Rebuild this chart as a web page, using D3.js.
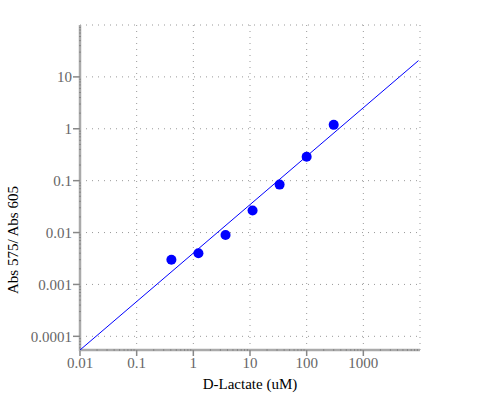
<!DOCTYPE html>
<html>
  <head>
    <meta charset="utf-8">
    <title>D-Lactate standard curve</title>
    <script src="https://d3js.org/d3.v7.min.js"></script>
    <style>
      body { margin: 0; background: #fff; }
      text { font-family: "Liberation Serif", "Times New Roman", serif; }
    </style>
  </head>
  <body>
    <div id="vis"></div>
    <script>
        const width = 500;
        const height = 400;

        const lactate = [0.41, 1.23, 3.7, 11.1, 33.3, 100, 300];
        const absRatio = [0.003, 0.004, 0.009, 0.0265, 0.084, 0.29, 1.19];

        // fitted line end points
        const fitX = [0.01, 9400];
        const fitY = [5.45e-5, 20.6];

        const xTicks = [0.01, 0.1, 1, 10, 100, 1000];
        const yTicks = [0.0001, 0.001, 0.01, 0.1, 1, 10];
        const xGrid = [0.1, 1, 10, 100, 1000, 10000];
        const yGrid = [0.0001, 0.001, 0.01, 0.1, 1, 10, 100];

        const margin = {top: 25, right: 80, bottom: 50, left: 80};

        const svg = d3.select("#vis")
                      .append("svg")
                      .attr("width", width)
                      .attr("height", height);

        const x = d3.scaleLog()
                    .domain([0.01, 10000])
                    .range([margin.left, width - margin.right]);

        const y = d3.scaleLog()
                    .domain([5.45e-5, 100])
                    .range([height - margin.bottom, margin.top]);

        // minor tick values (2..9 of every decade)
        function minors(scale) {
          return scale.ticks().filter(function(v) {
            const m = v / Math.pow(10, Math.floor(Math.log10(v) + 1e-9));
            return Math.abs(m - 1) > 1e-6;
          });
        }

        // dotted grid
        const grid = svg.append("g")
                        .attr("stroke", "#999")
                        .attr("stroke-dasharray", "1,5");

        grid.selectAll(".vgrid")
            .data(xGrid)
            .enter()
            .append("line")
            .attr("x1", d => x(d)).attr("x2", d => x(d))
            .attr("y1", y.range()[0]).attr("y2", y.range()[1]);

        grid.selectAll(".hgrid")
            .data(yGrid)
            .enter()
            .append("line")
            .attr("x1", x.range()[0]).attr("x2", x.range()[1])
            .attr("y1", d => y(d)).attr("y2", d => y(d));

        // axes
        const xAxis = svg.append("g")
                         .attr("transform", "translate(0," + y.range()[0] + ")");
        xAxis.append("line")
             .attr("x1", x.range()[0] - 1).attr("x2", x.range()[1])
             .attr("stroke", "#aaa").attr("stroke-width", 2.5);
        xAxis.selectAll(".minor")
             .data(minors(x))
             .enter()
             .append("line")
             .attr("x1", d => x(d)).attr("x2", d => x(d))
             .attr("y1", -1).attr("y2", 1)
             .attr("stroke", "#888");
        xAxis.selectAll(".major")
             .data(xTicks)
             .enter()
             .append("line")
             .attr("x1", d => x(d)).attr("x2", d => x(d))
             .attr("y1", 0).attr("y2", 6)
             .attr("stroke", "#888").attr("stroke-width", 1.5);
        xAxis.selectAll("text")
             .data(xTicks)
             .enter()
             .append("text")
             .attr("x", d => x(d))
             .attr("y", 18)
             .attr("text-anchor", "middle")
             .attr("fill", "#666")
             .style("font-size", "15px")
             .text(d => d3.format("~g")(d));

        const yAxis = svg.append("g")
                         .attr("transform", "translate(" + x.range()[0] + ",0)");
        yAxis.append("line")
             .attr("y1", y.range()[0] + 1).attr("y2", y.range()[1])
             .attr("stroke", "#aaa").attr("stroke-width", 2.5);
        yAxis.selectAll(".minor")
             .data(minors(y))
             .enter()
             .append("line")
             .attr("y1", d => y(d)).attr("y2", d => y(d))
             .attr("x1", -1).attr("x2", 1)
             .attr("stroke", "#888");
        yAxis.selectAll(".major")
             .data(yTicks)
             .enter()
             .append("line")
             .attr("y1", d => y(d)).attr("y2", d => y(d))
             .attr("x1", -7).attr("x2", 0)
             .attr("stroke", "#888").attr("stroke-width", 1.5);
        yAxis.selectAll("text")
             .data(yTicks)
             .enter()
             .append("text")
             .attr("x", -8)
             .attr("y", d => y(d))
             .attr("dy", "0.35em")
             .attr("text-anchor", "end")
             .attr("fill", "#666")
             .style("font-size", "15px")
             .text(d => d3.format("~f")(d));

        // axis titles
        svg.append("text")
           .attr("x", (x.range()[0] + x.range()[1]) / 2)
           .attr("y", 389)
           .attr("text-anchor", "middle")
           .attr("fill", "#000")
           .style("font-size", "15px")
           .text("D-Lactate (uM)");

        svg.append("text")
           .attr("transform", "translate(18,240) rotate(-90)")
           .attr("text-anchor", "middle")
           .attr("fill", "#000")
           .style("font-size", "15px")
           .text("Abs 575/ Abs 605");

        // fitted line
        const fit = fitX.map((v, i) => [v, fitY[i]]);
        svg.append("path")
           .datum(fit)
           .attr("fill", "none")
           .attr("stroke", "blue")
           .attr("stroke-width", 1)
           .attr("d", d3.line().x(d => x(d[0])).y(d => y(d[1])));

        // points
        svg.append("g")
           .selectAll("circle")
           .data(lactate)
           .enter()
           .append("circle")
           .attr("cx", d => x(d))
           .attr("cy", (d, i) => y(absRatio[i]))
           .attr("r", 5)
           .attr("fill", "blue");
    </script>
  </body>
</html>
